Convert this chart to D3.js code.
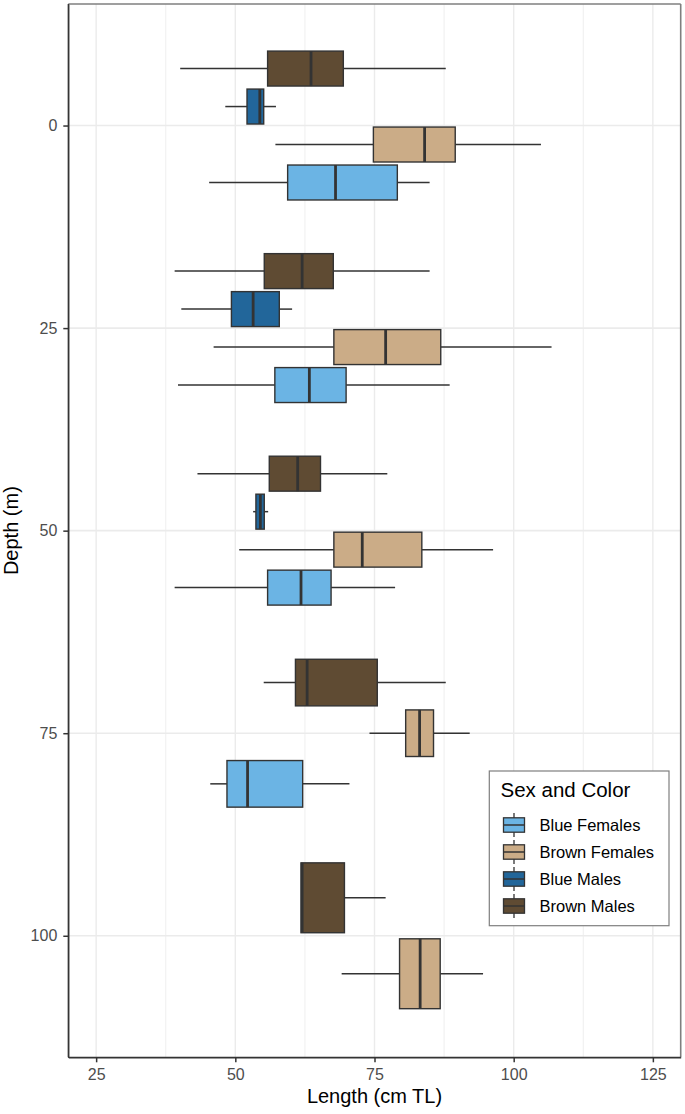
<!DOCTYPE html>
<html>
<head>
<meta charset="utf-8">
<script src="https://cdn.jsdelivr.net/npm/d3@7"></script>
<style>
  body { margin: 0; background: #fff; }
  svg { display: block; font-family: "Liberation Sans", Arial, Helvetica, sans-serif; }
</style>
</head>
<body>
<svg id="chart" width="685" height="1114"></svg>
<script>
// Depth groups (m) and boxplot stats per group: [lower whisker, Q1, median, Q3, upper whisker]
const depths = [0, 25, 50, 75, 100];
const groups = ["Blue Females", "Brown Females", "Blue Males", "Brown Males"];
const groupColors = ["#6BB4E4", "#CBAC87", "#22669A", "#5F4B33"];

const blueFemales = [
    [45.3, 59.4, 68.0, 79.1, 84.9],
    [39.7, 57.1, 63.3, 69.9, 88.5],
    [39.1, 55.8, 61.8, 67.2, 78.7],
    [45.5, 48.5, 52.2, 62.1, 70.5],
    null
];
const brownFemales = [
    [57.2, 74.8, 84.0, 89.5, 104.9],
    [46.1, 67.7, 77.0, 86.9, 106.8],
    [50.7, 67.7, 72.8, 83.5, 96.3],
    [74.1, 80.6, 83.1, 85.6, 92.1],
    [69.1, 79.5, 83.2, 86.8, 94.5]
];
const blueMales = [
    [48.2, 52.1, 54.4, 55.1, 57.3],
    [40.3, 49.3, 53.2, 57.9, 60.2],
    [53.2, 53.7, 54.5, 55.2, 55.9],
    null,
    null
];
const brownMales = [
    [40.1, 55.8, 63.6, 69.4, 87.8],
    [39.1, 55.2, 62.0, 67.6, 84.9],
    [43.2, 56.1, 61.2, 65.3, 77.3],
    [55.1, 60.8, 62.9, 75.5, 87.8],
    [61.8, 61.8, 62.0, 69.6, 77.0]
];
const seriesStats = [blueFemales, brownFemales, blueMales, brownMales];

const xTicks = [25, 50, 75, 100, 125];
const xMinor = [37.5, 62.5, 87.5, 112.5];

document.addEventListener('DOMContentLoaded', () => {
    const svg = d3.select("#chart");

    // Panel box
    const left = 68.3, right = 680.7, top = 4, bottom = 1057.3;

    const x = d3.scaleLinear().domain([20, 130]).range([left, right]);
    const y = d3.scaleLinear().domain([-15, 115]).range([top, bottom]);

    const dodgeWidth = 18.75;   // total width (in depth units) shared by boxes at one depth
    const boxFill = 0.92;

    // Gridlines
    const grid = svg.append("g");
    grid.selectAll("line.minor")
        .data(xMinor)
        .join("line")
        .attr("x1", d => x(d)).attr("x2", d => x(d))
        .attr("y1", top).attr("y2", bottom)
        .attr("stroke", "#EBEBEB")
        .attr("stroke-width", 0.8);
    grid.selectAll("line.majorx")
        .data(xTicks)
        .join("line")
        .attr("x1", d => x(d)).attr("x2", d => x(d))
        .attr("y1", top).attr("y2", bottom)
        .attr("stroke", "#EBEBEB")
        .attr("stroke-width", 1.4);
    grid.selectAll("line.majory")
        .data(depths)
        .join("line")
        .attr("x1", left).attr("x2", right)
        .attr("y1", d => y(d)).attr("y2", d => y(d))
        .attr("stroke", "#EBEBEB")
        .attr("stroke-width", 1.6);

    // Build box records with dodge positions
    const boxes = [];
    depths.forEach((depth, di) => {
        const present = seriesStats
            .map((s, gi) => ({ gi, stats: s[di] }))
            .filter(d => d.stats !== null);
        const n = present.length;
        const slot = dodgeWidth / n;
        present.forEach((p, k) => {
            boxes.push({
                depth: depth,
                group: p.gi,
                center: depth + dodgeWidth / 2 - slot * (k + 0.5),
                half: slot * boxFill / 2,
                stats: p.stats
            });
        });
    });

    const boxG = svg.append("g")
        .selectAll("g")
        .data(boxes)
        .join("g");

    // Whiskers
    boxG.append("line")
        .attr("x1", d => x(d.stats[0])).attr("x2", d => x(d.stats[1]))
        .attr("y1", d => y(d.center)).attr("y2", d => y(d.center))
        .attr("stroke", "#333").attr("stroke-width", 1.5);
    boxG.append("line")
        .attr("x1", d => x(d.stats[3])).attr("x2", d => x(d.stats[4]))
        .attr("y1", d => y(d.center)).attr("y2", d => y(d.center))
        .attr("stroke", "#333").attr("stroke-width", 1.5);

    // Boxes
    boxG.append("rect")
        .attr("x", d => x(d.stats[1]))
        .attr("width", d => x(d.stats[3]) - x(d.stats[1]))
        .attr("y", d => y(d.center - d.half))
        .attr("height", d => y(d.center + d.half) - y(d.center - d.half))
        .attr("fill", d => groupColors[d.group])
        .attr("stroke", "#333")
        .attr("stroke-width", 1.4);

    // Medians
    boxG.append("line")
        .attr("x1", d => x(d.stats[2])).attr("x2", d => x(d.stats[2]))
        .attr("y1", d => y(d.center - d.half)).attr("y2", d => y(d.center + d.half))
        .attr("stroke", "#333").attr("stroke-width", 2.8);

    // Panel border (top/right grey), axis lines (left/bottom dark)
    svg.append("line").attr("x1", left).attr("x2", right).attr("y1", top).attr("y2", top)
        .attr("stroke", "#7F7F7F").attr("stroke-width", 1.6);
    svg.append("line").attr("x1", right).attr("x2", right).attr("y1", top).attr("y2", bottom)
        .attr("stroke", "#7F7F7F").attr("stroke-width", 1.6);

    // Axes
    const xAxis = svg.append("g")
        .attr("transform", `translate(0,${bottom})`)
        .call(d3.axisBottom(x).tickValues(xTicks).tickSize(5).tickPadding(6).tickSizeOuter(0));
    const yAxis = svg.append("g")
        .attr("transform", `translate(${left},0)`)
        .call(d3.axisLeft(y).tickValues(depths).tickSize(5).tickPadding(6).tickSizeOuter(0));

    [xAxis, yAxis].forEach(a => {
        a.select(".domain").attr("stroke", "#333").attr("stroke-width", 1.3);
        a.selectAll(".tick line").attr("stroke", "#333").attr("stroke-width", 1.5);
        a.selectAll(".tick text")
            .attr("fill", "#4D4D4D")
            .attr("font-size", 16)
            .attr("font-family", "Liberation Sans, Arial, sans-serif");
    });
    svg.append("line").attr("x1", left).attr("x2", left).attr("y1", top).attr("y2", bottom)
        .attr("stroke", "#333").attr("stroke-width", 1.3);
    svg.append("line").attr("x1", left).attr("x2", right).attr("y1", bottom).attr("y2", bottom)
        .attr("stroke", "#333").attr("stroke-width", 1.3);

    // Axis titles
    svg.append("text")
        .attr("x", (left + right) / 2)
        .attr("y", 1103)
        .attr("text-anchor", "middle")
        .attr("font-size", 20)
        .attr("fill", "#000")
        .text("Length (cm TL)");
    svg.append("text")
        .attr("transform", `translate(18,${(top + bottom) / 2}) rotate(-90)`)
        .attr("text-anchor", "middle")
        .attr("font-size", 20)
        .attr("fill", "#000")
        .text("Depth (m)");

    // Legend
    const legend = svg.append("g");
    legend.append("rect")
        .attr("x", 489.3).attr("y", 771)
        .attr("width", 179.7).attr("height", 154.7)
        .attr("fill", "#fff")
        .attr("stroke", "#7F7F7F")
        .attr("stroke-width", 1.2);
    legend.append("text")
        .attr("x", 500.5).attr("y", 796.5)
        .attr("font-size", 20.5)
        .attr("fill", "#000")
        .text("Sex and Color");

    const item = legend.selectAll("g.item")
        .data(groups)
        .join("g")
        .attr("class", "item")
        .attr("transform", (d, i) => `translate(514,${825 + i * 27})`);
    item.append("line")
        .attr("x1", 0).attr("x2", 0).attr("y1", -12).attr("y2", 12)
        .attr("stroke", "#333").attr("stroke-width", 1.3);
    item.append("rect")
        .attr("x", -10.5).attr("y", -7.2)
        .attr("width", 21).attr("height", 14.4)
        .attr("fill", (d, i) => groupColors[i])
        .attr("stroke", "#333").attr("stroke-width", 1.3);
    item.append("line")
        .attr("x1", -10.5).attr("x2", 10.5).attr("y1", 0).attr("y2", 0)
        .attr("stroke", "#333").attr("stroke-width", 1.5);
    item.append("text")
        .attr("x", 25.5).attr("y", 6)
        .attr("font-size", 16.5)
        .attr("fill", "#000")
        .text(d => d);
});
</script>
</body>
</html>
